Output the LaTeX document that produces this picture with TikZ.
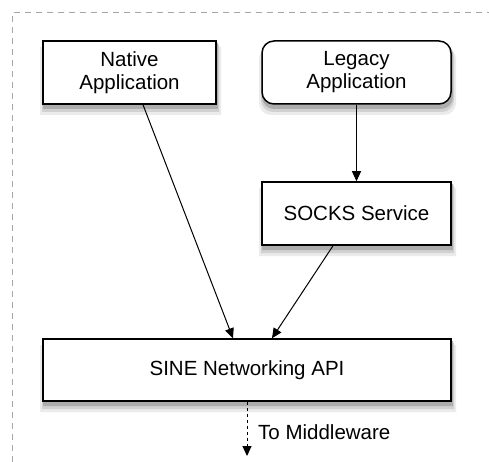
\documentclass[tikz,border=0pt]{standalone}
\usepackage{fontspec}
\setmainfont{Liberation Sans}
\usetikzlibrary{calc}
\usetikzlibrary{arrows.meta}

\tikzset{
  box/.style={draw=black,line width=1.5pt,fill=white,align=center,
    font=\fontsize{20.5}{23}\selectfont,inner sep=0pt},
  link/.style={line width=1pt,-{Triangle[length=10pt,width=9pt]}}
}

\begin{document}
\begin{tikzpicture}[x=1pt,y=-1pt]

\useasboundingbox (0,0) rectangle (489,462);

% outer frame
\draw[gray!70,line width=1pt,dash pattern=on 6pt off 5pt] (12,462) -- (12,13) -- (489,13);

% shadows
\foreach \xa/\ya/\xb/\yb/\r in {43/41/216/104/0.1,262/41/451/104/12,262/182/451/245/0.1,43/339/451/401/0.1} {
  \fill[black!8,rounded corners=\r pt] (\xa-3,\ya+6) rectangle (\xb+5,\yb+11);
  \fill[black!18,rounded corners=\r pt] (\xa-1,\ya+4) rectangle (\xb+3,\yb+8);
  \fill[black!32,rounded corners=\r pt] (\xa,\ya+2) rectangle (\xb+2,\yb+5);
}

\node[box,minimum width=173pt,minimum height=63pt] (native) at (129.5,72.5) {Native\\Application};
\node[box,rounded corners=12pt,minimum width=189pt,minimum height=63pt] (legacy) at (356.5,72.5) {Legacy\\Application};
\node[box,minimum width=189pt,minimum height=63pt] (socks) at (356.5,213.5) {SOCKS Service};
\node[box,minimum width=408pt,minimum height=62pt] (sine) at (247,370) {SINE Networking API};

\coordinate (mw) at (247,456);

\draw[link] ($(native.south)+(13.5,0)$) -- ($(sine.north)+(-14,0)$);
\draw[link] (legacy.south) -- (socks.north);
\draw[link] ($(socks.south)+(-23.5,0)$) -- ($(sine.north)+(25,0)$);
\draw[link,dashed] (sine.south) -- (mw);
\node[anchor=west,font=\fontsize{20.5}{23}\selectfont,inner sep=0pt] (mwlabel) at (258,432) {To Middleware};

\end{tikzpicture}
\end{document}
